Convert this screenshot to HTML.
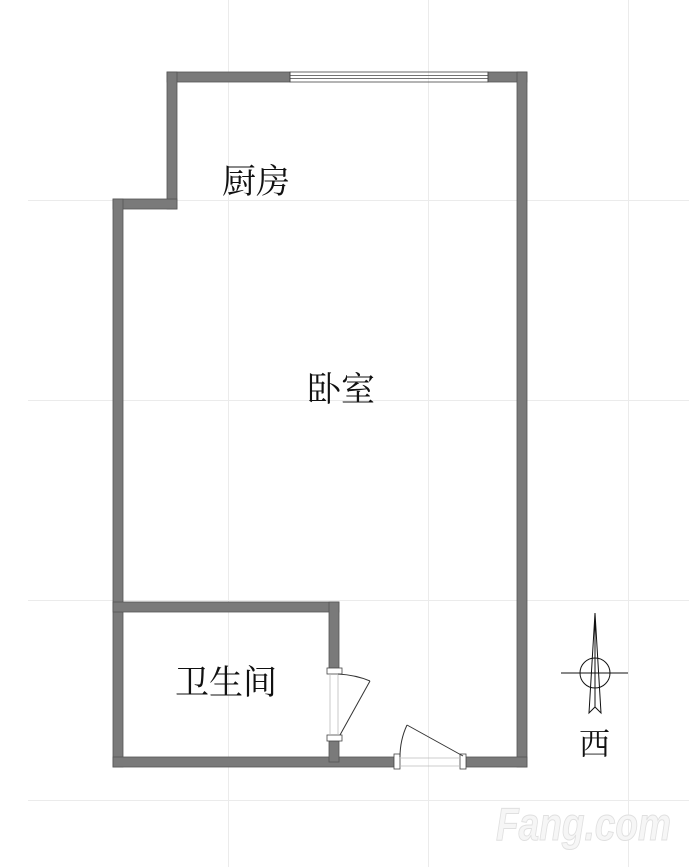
<!DOCTYPE html>
<html><head><meta charset="utf-8"><style>
html,body{margin:0;padding:0;background:#fff;}
svg{display:block;}
text{font-family:"Liberation Serif","Noto Serif CJK SC",serif;fill:#111;}
</style></head><body>
<svg width="689" height="867" viewBox="0 0 689 867" xmlns="http://www.w3.org/2000/svg">
<g stroke="#ebebeb" stroke-width="1">
<line x1="228.5" y1="0" x2="228.5" y2="867"/>
<line x1="428.5" y1="0" x2="428.5" y2="867"/>
<line x1="628.5" y1="0" x2="628.5" y2="867"/>
<line x1="28" y1="200.5" x2="689" y2="200.5"/>
<line x1="28" y1="400.5" x2="689" y2="400.5"/>
<line x1="28" y1="600.5" x2="689" y2="600.5"/>
<line x1="28" y1="800.5" x2="689" y2="800.5"/>
</g>
<g fill="#7a7a7a" stroke="#555" stroke-width="0.8">
<rect x="167" y="72" width="123" height="10"/>
<rect x="488" y="72" width="39" height="10"/>
<rect x="167" y="72" width="10" height="137"/>
<rect x="113" y="199" width="64" height="10"/>
<rect x="113" y="199" width="10" height="568"/>
<rect x="517" y="72" width="10" height="695"/>
<rect x="113" y="757" width="285" height="10"/>
<rect x="463" y="757" width="64" height="10"/>
<rect x="113" y="602" width="226" height="10"/>
<rect x="329" y="602" width="10" height="70"/>
<rect x="329" y="737" width="10" height="25"/>
</g>
<g fill="none" stroke="#444" stroke-width="0.8">
<rect x="290" y="72" width="198" height="10"/>
<line x1="290" y1="75.5" x2="488" y2="75.5"/>
<line x1="290" y1="78.5" x2="488" y2="78.5"/>
</g>
<g fill="#fff" stroke="#444" stroke-width="0.8">
<rect x="327" y="668" width="15" height="6"/>
<rect x="327" y="735" width="15" height="6"/>
<rect x="394" y="754" width="6" height="15"/>
<rect x="460" y="754" width="6" height="15"/>
</g>
<g fill="none" stroke="#bbb" stroke-width="0.8">
<line x1="330" y1="674" x2="330" y2="735"/>
<line x1="338" y1="674" x2="338" y2="735"/>
<line x1="400" y1="758" x2="460" y2="758"/>
<line x1="400" y1="766" x2="460" y2="766"/>
</g>
<g fill="none" stroke="#333" stroke-width="1">
<line x1="340" y1="735" x2="370" y2="681"/>
<path d="M338 674 Q356 675 370 681"/>
<line x1="463" y1="756" x2="407" y2="725"/>
<path d="M407 725 Q400 740 400 757"/>
</g>
<g fill="none" stroke="#111" stroke-width="1">
<line x1="561" y1="673" x2="628" y2="673"/>
<circle cx="595" cy="673" r="15"/>
<path d="M595 613 L589 713 L595 707 L601 713 Z"/>
<line x1="595" y1="613" x2="595" y2="707"/>
</g>
<text x="222" y="193" font-size="34">厨房</text>
<text x="307" y="401" font-size="34">卧室</text>
<text x="175" y="694" font-size="34">卫生间</text>
<text x="579" y="755" font-size="31">西</text>
<text x="496" y="840" font-size="46" font-weight="bold" font-style="italic" textLength="175" lengthAdjust="spacingAndGlyphs" style="font-family:'Liberation Sans',sans-serif;fill:#f6f6f6;stroke:#e0e0e0;stroke-width:1">Fang.com</text>
</svg>
</body></html>
